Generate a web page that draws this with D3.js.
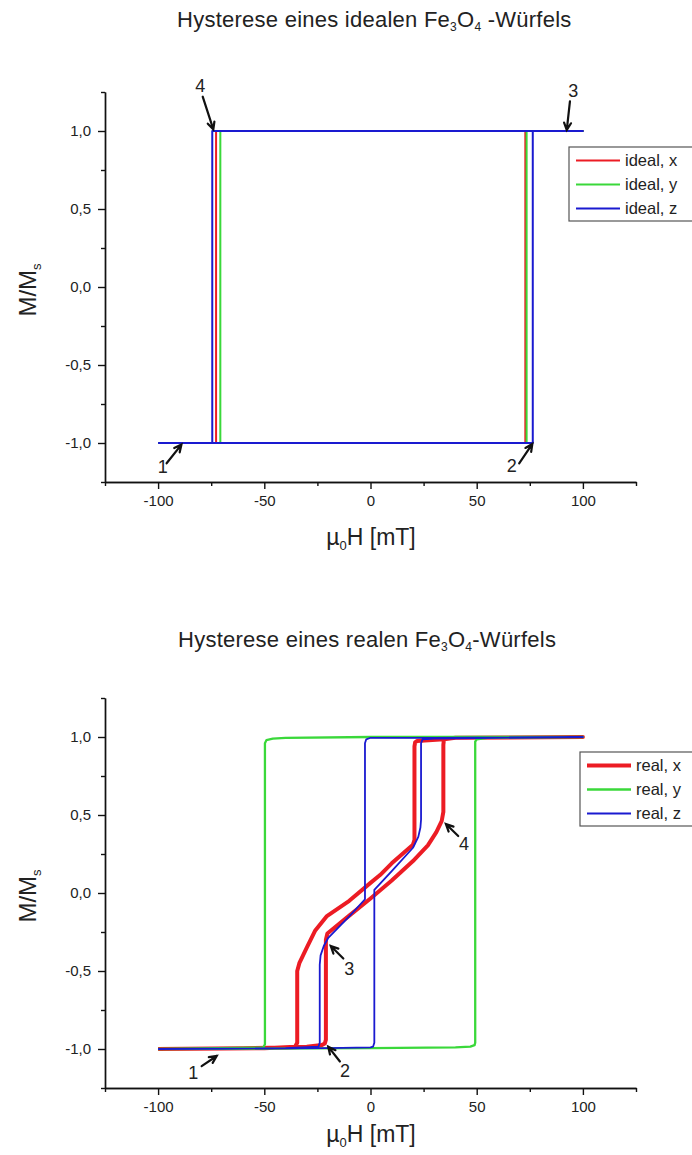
<!DOCTYPE html>
<html>
<head>
<meta charset="utf-8">
<script src="https://cdn.jsdelivr.net/npm/d3@7"></script>
<style>
  html, body { margin: 0; padding: 0; background: #fff; }
  svg { display: block; font-family: "Liberation Sans", Arial, sans-serif; }
</style>
</head>
<body>
<svg id="chart" width="692" height="1155"></svg>
<script>
// ---------- DATA ----------
const xMajorTicks = [-100, -50, 0, 50, 100];
const xMinorTicks = [-125, -75, -25, 25, 75, 125];
const yMajorTicks = [-1, -0.5, 0, 0.5, 1];
const yMinorTicks = [-1.25, -0.75, -0.25, 0.25, 0.75, 1.25];

// Ideal cube (loop: ascending then descending)
const idealX_H = [-100, 72.9, 72.9, 100, -72.7, -72.7, -100];
const idealX_M = [-1, -1, 1, 1, 1, -1, -1];
const idealY_H = [-100, 73.5, 73.5, 100, -70.7, -70.7, -100];
const idealY_M = [-1, -1, 1, 1, 1, -1, -1];
const idealZ_H = [-100, 76.4, 76.4, 100, -74.5, -74.5, -100];
const idealZ_M = [-1, -1, 1, 1, 1, -1, -1];

// Real cube
const realX_H = [-100, -60, -40, -30, -23, -21.5, -21, -21, -20.3, -10, 0, 10, 20, 27, 31, 33.5, 34.3, 34.3, 34.6, 40, 100,
                 40, 34.5, 22, 21, 20.7, 20.7, 20, 10, 4.5, 0, -10, -20.7, -26, -30, -33.5, -34.5, -34.5, -35.5, -50, -100];
const realX_M = [-1, -0.995, -0.99, -0.985, -0.975, -0.965, -0.94, -0.30, -0.26, -0.145, -0.035, 0.08, 0.205, 0.305, 0.39, 0.46, 0.52, 0.95, 0.985, 0.995, 1,
                 0.995, 0.985, 0.975, 0.965, 0.94, 0.34, 0.31, 0.19, 0.115, 0.065, -0.05, -0.15, -0.24, -0.35, -0.45, -0.5, -0.96, -0.985, -0.995, -1];
const realY_H = [-100, 0, 40, 47, 49, 49.3, 49.3, 50, 55, 100, 0, -40, -46, -49, -49.7, -49.7, -50.5, -100];
const realY_M = [-1, -0.995, -0.99, -0.985, -0.975, -0.96, 0.97, 0.985, 0.995, 1, 1, 0.995, 0.99, 0.98, 0.96, -0.97, -0.99, -1];
const realZ_H = [-100, -20, 0, 1.2, 1.8, 1.8, 10, 20, 22.5, 23.5, 23.8, 23.8, 24.5, 30, 100,
                 30, 0, -2, -2.6, -2.6, -10, -20, -22, -23.5, -23.9, -23.9, -24.5, -40, -100];
const realZ_M = [-1, -0.995, -0.99, -0.985, -0.96, 0.02, 0.14, 0.29, 0.36, 0.42, 0.47, 0.96, 0.985, 0.99, 1,
                 0.995, 0.995, 0.985, 0.96, -0.04, -0.15, -0.29, -0.34, -0.40, -0.46, -0.96, -0.985, -0.995, -1];

const idealLegend = ["ideal, x", "ideal, y", "ideal, z"];
const realLegend = ["real, x", "real, y", "real, z"];
const seriesColors = ["#ec1c24", "#3ad83a", "#1a1ad0"];

// Annotations (data units): label position, arrow tail, arrow tip
const idealAnnLabel = ["4", "3", "1", "2"];
const idealAnnLH = [-80.2, 95.5, -97.8, 66.5];
const idealAnnLM = [1.25, 1.215, -1.19, -1.185];
const idealAnnTH = [-79.0, 93.9, -96.0, 70.0];
const idealAnnTM = [1.22, 1.19, -1.13, -1.13];
const idealAnnPH = [-74.0, 92.4, -89.0, 76.2];
const idealAnnPM = [1.01, 1.006, -1.01, -1.006];

const realAnnLabel = ["1", "2", "3", "4"];
const realAnnLH = [-83.4, -12.0, -10.0, 44.0];
const realAnnLM = [-1.19, -1.18, -0.526, 0.276];
const realAnnTH = [-79.5, -14.4, -12.8, 41.3];
const realAnnTM = [-1.11, -1.08, -0.42, 0.365];
const realAnnPH = [-72.4, -19.9, -18.7, 35.5];
const realAnnPM = [-1.045, -0.985, -0.34, 0.442];

// ---------- DRAW ----------
const svg = d3.select("#chart");
svg.append("rect").attr("width", 692).attr("height", 1155).attr("fill", "#fff");

const fmtY = v => d3.format(".1f")(v).replace(".", ",").replace("\u2212", "-");
const fmtX = v => d3.format("d")(v).replace("\u2212", "-");

function zip(h, m) { return h.map((v, i) => ({h: v, m: m[i]})); }

function drawChart(cfg) {
  const x = d3.scaleLinear().domain([-125, 125]).range([105, 636]);
  const y = d3.scaleLinear().domain([-1.25, 1.25]).range([cfg.bottom, cfg.top]);
  const g = svg.append("g");

  // Title
  const t = g.append("text").attr("x", cfg.titleX).attr("y", cfg.titleY)
    .attr("font-size", 22).attr("letter-spacing", 0.25).attr("fill", "#222");
  t.append("tspan").text(cfg.titleA);
  t.append("tspan").attr("font-size", 12).attr("dy", 4).text("3");
  t.append("tspan").attr("dy", -4).text("O");
  t.append("tspan").attr("font-size", 12).attr("dy", 4).text("4");
  t.append("tspan").attr("dy", -4).text(cfg.titleB);

  // Axes
  const axStyle = sel => {
    sel.select(".domain").attr("stroke", "#111").attr("stroke-width", 1.4);
    sel.selectAll(".tick line").attr("stroke", "#111").attr("stroke-width", 1.4);
    sel.selectAll(".tick text").attr("fill", "#222").attr("font-size", 15)
      .attr("font-family", "Liberation Sans, Arial, sans-serif");
  };
  const xa = g.append("g").attr("transform", `translate(0,${cfg.bottom})`)
    .call(d3.axisBottom(x).tickValues(xMajorTicks).tickSize(7).tickSizeOuter(0).tickPadding(6).tickFormat(fmtX));
  axStyle(xa);
  const xm = g.append("g").attr("transform", `translate(0,${cfg.bottom})`)
    .call(d3.axisBottom(x).tickValues(xMinorTicks).tickSize(4).tickSizeOuter(0).tickFormat(""));
  axStyle(xm);
  const ya = g.append("g").attr("transform", `translate(105,0)`)
    .call(d3.axisLeft(y).tickValues(yMajorTicks).tickSize(7).tickSizeOuter(0).tickPadding(7).tickFormat(fmtY));
  axStyle(ya);
  const ym = g.append("g").attr("transform", `translate(105,0)`)
    .call(d3.axisLeft(y).tickValues(yMinorTicks).tickSize(4).tickSizeOuter(0).tickFormat(""));
  axStyle(ym);

  // Axis titles
  const xl = g.append("text").attr("x", 371).attr("y", cfg.xLabelY).attr("text-anchor", "middle")
    .attr("font-size", 23).attr("fill", "#222");
  xl.append("tspan").text("µ");
  xl.append("tspan").attr("font-size", 13).attr("dy", 5).text("0");
  xl.append("tspan").attr("dy", -5).text("H [mT]");

  const ylab = g.append("text")
    .attr("transform", `translate(36,${y(0) + 3}) rotate(-90)`)
    .attr("text-anchor", "middle").attr("font-size", 24).attr("fill", "#222");
  ylab.append("tspan").text("M/M");
  ylab.append("tspan").attr("font-size", 13).attr("dy", 5).text("s");

  // Curves
  const line = d3.line().x(d => x(d.h)).y(d => y(d.m));
  cfg.series.forEach((s, i) => {
    g.append("path").datum(zip(s.h, s.m)).attr("d", line)
      .attr("fill", "none").attr("stroke", seriesColors[i])
      .attr("stroke-width", s.w).attr("stroke-linejoin", "round").attr("stroke-linecap", "butt");
  });

  // Annotations
  const a = cfg.ann;
  a.label.forEach((lab, i) => {
    g.append("text").attr("x", x(a.lh[i])).attr("y", y(a.lm[i])).attr("text-anchor", "middle")
      .attr("font-size", 18).attr("fill", "#222").text(lab);
    const x1 = x(a.th[i]), y1 = y(a.tm[i]), x2 = x(a.ph[i]), y2 = y(a.pm[i]);
    const ang = Math.atan2(y2 - y1, x2 - x1);
    const L = 8, spread = 0.45;
    const hx1 = x2 - L * Math.cos(ang - spread), hy1 = y2 - L * Math.sin(ang - spread);
    const hx2 = x2 - L * Math.cos(ang + spread), hy2 = y2 - L * Math.sin(ang + spread);
    g.append("path").attr("d", `M${x1},${y1}L${x2},${y2}M${hx1},${hy1}L${x2},${y2}L${hx2},${hy2}`)
      .attr("fill", "none").attr("stroke", "#111").attr("stroke-width", 2.2)
      .attr("stroke-linejoin", "miter").attr("stroke-linecap", "round");
  });

  // Legend
  const lg = cfg.legend;
  g.append("rect").attr("x", lg.x).attr("y", lg.y).attr("width", 140).attr("height", 74)
    .attr("fill", "#fff").attr("stroke", "#555").attr("stroke-width", 1.2);
  lg.labels.forEach((lab, i) => {
    const ry = lg.y + 13.5 + i * 24;
    g.append("line").attr("x1", lg.x + 7).attr("x2", lg.x + 51).attr("y1", ry).attr("y2", ry)
      .attr("stroke", seriesColors[i]).attr("stroke-width", cfg.series[i].w);
    g.append("text").attr("x", lg.x + 56).attr("y", ry + 5.5).attr("font-size", 16.5)
      .attr("fill", "#222").text(lab);
  });
}

drawChart({
  top: 92, bottom: 482,
  titleX: 177, titleY: 27, titleA: "Hysterese eines idealen Fe", titleB: " -Würfels",
  xLabelY: 545,
  series: [
    {h: idealX_H, m: idealX_M, w: 2},
    {h: idealY_H, m: idealY_M, w: 2},
    {h: idealZ_H, m: idealZ_M, w: 2}
  ],
  ann: {label: idealAnnLabel, lh: idealAnnLH, lm: idealAnnLM, th: idealAnnTH, tm: idealAnnTM, ph: idealAnnPH, pm: idealAnnPM},
  legend: {x: 569, y: 147, labels: idealLegend}
});

drawChart({
  top: 698, bottom: 1088,
  titleX: 178, titleY: 647, titleA: "Hysterese eines realen Fe", titleB: "-Würfels",
  xLabelY: 1142,
  series: [
    {h: realX_H, m: realX_M, w: 4},
    {h: realY_H, m: realY_M, w: 2.3},
    {h: realZ_H, m: realZ_M, w: 1.8}
  ],
  ann: {label: realAnnLabel, lh: realAnnLH, lm: realAnnLM, th: realAnnTH, tm: realAnnTM, ph: realAnnPH, pm: realAnnPM},
  legend: {x: 580, y: 752, labels: realLegend}
});
</script>
</body>
</html>
